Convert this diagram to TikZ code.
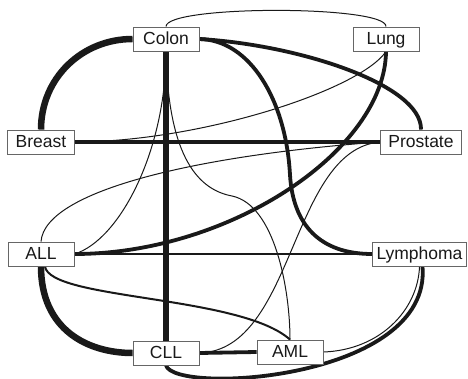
\documentclass[tikz,border=0pt]{standalone}
\usepackage{fontspec}
\setmainfont{Liberation Sans}
\pgfdeclarelayer{bg}
\pgfsetlayers{bg,main}

\begin{document}
\begin{tikzpicture}[x=1pt,y=-1pt,
  box/.style={draw=black!60,fill=white,line width=0.9pt,text=black!90,
    font=\fontsize{17.5}{20}\selectfont,minimum width=66pt,minimum height=24pt,
    inner xsep=8pt,inner ysep=5pt,text height=12.5pt,text depth=1.5pt},
  faint/.style={draw=black!90,line width=1pt},
  mid/.style={draw=black!90,line width=2pt},
  strong/.style={draw=black!90,line width=3.8pt},
  heavy/.style={draw=black!90,line width=6.5pt},
]
\useasboundingbox (0,0) rectangle (468,379);

% tumour types
\node[box] (colon) at (166,39) {Colon};
\node[box] (lung) at (386,39) {Lung};
\node[box] (breast) at (41,142) {Breast};
\node[box] (prostate) at (421,142) {Prostate};
\node[box] (all) at (41,254) {ALL};
\node[box,inner xsep=4pt] (lymph) at (419.5,254) {Lymphoma};
\node[box] (cll) at (166,353) {CLL};
\node[box] (aml) at (290,352) {AML};

\begin{pgfonlayer}{bg}
% heavy links
\draw[heavy] (colon.west) .. controls (82,39) and (41,78) .. (breast.north);
\draw[heavy] (all.south) .. controls (41,330) and (88,353) .. (cll.west);
\draw[heavy,line width=5.5pt] (colon.south) -- (cll.north);

% strong links
\draw[strong] (colon.east) .. controls (300,45) and (422,85) .. (prostate.north);
\draw[strong] (colon.east) .. controls (250,40) and (286,100) .. (290,175)
  .. controls (293,225) and (320,254) .. (lymph.west);
\draw[strong] (lung.south) .. controls (385,150) and (230,254) .. (all.east);
\draw[strong] (breast.east) -- (prostate.west);
\draw[strong] (cll.east) -- (aml.west);
\draw[strong] (cll.south) .. controls (175,395) and (432,380) .. ([xshift=3pt]lymph.south);

% medium links
\draw[mid] (all.east) -- (lymph.west);
\draw[mid] ([xshift=4pt]all.south) .. controls (50,300) and (240,295) .. (aml.north);

% faint links
\draw[faint] (colon.north) .. controls (166,5) and (387,5) .. (lung.north);
\draw[faint] (colon.south) .. controls (166,150) and (120,240) .. (all.east);
\draw[faint] (colon.south) .. controls (168,160) and (200,190) .. (232,196)
  .. controls (275,205) and (290,290) .. (aml.north);
\draw[faint] (breast.east) .. controls (200,142) and (360,90) .. (lung.south);
\draw[faint] (all.north) .. controls (45,190) and (200,155) .. (prostate.west);
\draw[faint] (prostate.west) .. controls (290,150) and (295,350) .. (cll.east);
\draw[faint] (aml.east) .. controls (380,350) and (418,310) .. (lymph.south);
\end{pgfonlayer}

\end{tikzpicture}
\end{document}
